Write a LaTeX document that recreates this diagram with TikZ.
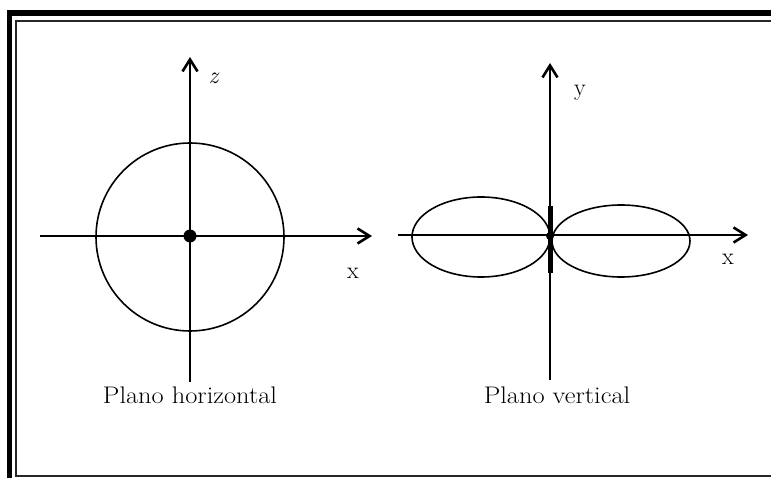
\documentclass[tikz,border=0pt]{standalone}
\usetikzlibrary{arrows.meta}
\begin{document}
\begin{tikzpicture}[x=1pt,y=-1pt,
  axis/.style={line width=1.6pt,-{Straight Barb[length=12pt,width=15pt,line width=2.6pt]}},
  curve/.style={line width=1.6pt},
  lbl/.style={inner sep=0pt,font=\fontsize{24}{28}\selectfont},
  captext/.style={inner sep=0pt,xscale=1.1,font=\fontsize{24}{28}\selectfont},
  dot/.style={circle,fill=black,inner sep=0pt,minimum size=13pt}]
\useasboundingbox (0,0) rectangle (771,478);
% frame
\draw[line width=5.5pt,miter limit=10] (9.5,478) -- (9.5,13) -- (771,13);
\draw[line width=2pt,black!85] (771,21.5) -- (16,21.5) -- (16,476) -- (771,476);
% left diagram
\coordinate (L1) at (40,236);
\coordinate (L2) at (372,236);
\coordinate (L3) at (190,382);
\coordinate (L4) at (190,57);
\draw[curve] (190,237) circle [radius=94];
\draw[axis] (L1) -- (L2);
\draw[axis] (L3) -- (L4);
\node[dot] (o1) at (190,236) {};
\node[lbl] (zl) at (214,78) {\textit{z}};
\node[lbl] (xl1) at (353,273) {x};
\node[captext] (c1) at (190,395) {Plano horizontal};
% right diagram
\coordinate (R1) at (398,235);
\coordinate (R2) at (748,235);
\coordinate (R3) at (550,380);
\coordinate (R4) at (550,63);
\draw[curve] (481,237) ellipse [x radius=69, y radius=40];
\draw[curve] (621,241) ellipse [x radius=69, y radius=36];
\draw[axis] (R1) -- (R2);
\draw[axis] (R3) -- (R4);
\coordinate (B1) at (550,206);
\coordinate (B2) at (550,273);
\draw[line width=5pt] (B1) -- (B2);
\node[circle,fill=black,inner sep=0pt,minimum size=8pt] (o2) at (550,236) {};
\node[lbl] (yl) at (580,93) {y};
\node[lbl] (xl2) at (728,259) {x};
\node[captext] (c2) at (557,395) {Plano vertical};
\end{tikzpicture}
\end{document}
